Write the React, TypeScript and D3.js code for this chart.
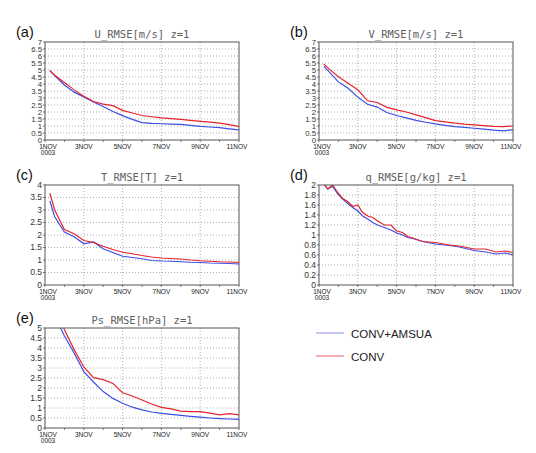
import React from "react";
import * as d3 from "d3";

// time axis (days after 1NOV 00Z)
const days = [0.25, 0.5, 1, 1.5, 2, 2.5, 3, 3.5, 4, 4.5, 5, 5.5, 6, 6.5, 7, 7.5, 8, 8.5, 9, 9.5, 10];
const qDays = [0.25, 0.45, 0.7, 0.96, 1.22, 1.48, 1.74, 2.0, 2.25, 2.51, 2.77, 3.02, 3.37, 3.71, 4.0, 4.31, 4.57, 4.83, 5.34, 6.0, 6.72, 7.23, 8.0, 8.6, 9.1, 9.6, 10];

// (a) U RMSE
const uAmsua = [4.95, 4.6, 3.93, 3.42, 3.08, 2.72, 2.39, 2.03, 1.74, 1.47, 1.24, 1.19, 1.16, 1.13, 1.11, 1.05, 0.98, 0.93, 0.88, 0.8, 0.72];
const uConv = [4.95, 4.62, 4.1, 3.58, 3.12, 2.75, 2.56, 2.45, 2.12, 1.93, 1.75, 1.66, 1.58, 1.53, 1.48, 1.4, 1.33, 1.27, 1.2, 1.1, 0.95];
// (b) V RMSE
const vAmsua = [5.26, 4.9, 4.15, 3.7, 3.06, 2.55, 2.35, 1.96, 1.75, 1.58, 1.4, 1.27, 1.15, 1.05, 0.96, 0.9, 0.84, 0.78, 0.7, 0.65, 0.74];
const vConv = [5.43, 5.1, 4.52, 4.05, 3.59, 2.8, 2.68, 2.33, 2.15, 2.0, 1.8, 1.6, 1.39, 1.3, 1.2, 1.13, 1.08, 1.02, 0.97, 0.95, 1.0];
// (c) T RMSE
const tAmsua = [3.36, 2.73, 2.12, 1.93, 1.65, 1.72, 1.45, 1.3, 1.15, 1.1, 1.05, 0.98, 0.96, 0.95, 0.93, 0.91, 0.9, 0.88, 0.87, 0.86, 0.84];
const tConv = [3.67, 3.0, 2.22, 2.05, 1.78, 1.7, 1.55, 1.42, 1.31, 1.25, 1.18, 1.12, 1.08, 1.06, 1.04, 1.0, 0.97, 0.95, 0.93, 0.92, 0.9];
// (d) q RMSE
const qAmsua = [2.02, 1.92, 1.97, 1.83, 1.72, 1.63, 1.55, 1.48, 1.38, 1.32, 1.25, 1.2, 1.15, 1.1, 1.04, 1.0, 0.95, 0.93, 0.87, 0.82, 0.79, 0.76, 0.69, 0.66, 0.62, 0.64, 0.6];
const qConv = [2.02, 1.92, 2.0, 1.85, 1.73, 1.67, 1.57, 1.6, 1.45, 1.38, 1.35, 1.28, 1.2, 1.2, 1.08, 1.05, 0.97, 0.94, 0.87, 0.85, 0.8, 0.78, 0.72, 0.72, 0.66, 0.68, 0.65];
// (e) Ps RMSE
const psAmsua = [6.4, 5.6, 4.6, 3.75, 2.82, 2.3, 1.82, 1.48, 1.24, 1.04, 0.91, 0.8, 0.73, 0.68, 0.63, 0.58, 0.54, 0.5, 0.47, 0.45, 0.43];
const psConv = [6.6, 6.0, 4.92, 3.92, 3.05, 2.52, 2.42, 2.23, 1.76, 1.6, 1.4, 1.2, 1.03, 0.96, 0.84, 0.82, 0.82, 0.74, 0.66, 0.72, 0.66];

const xTickDays = [0, 2, 4, 6, 8, 10];
const xTickLabels = ["1NOV", "3NOV", "5NOV", "7NOV", "9NOV", "11NOV"];
const yearLabel = "0003";
const seriesNames = ["CONV+AMSUA", "CONV"];

const BLUE = "#3b4fe6";
const RED = "#e5242c";

type Panel = {
  id: string;
  tag: string;
  title: string;
  yMax: number;
  yStep: number;
  t: number[];
  blue: number[];
  red: number[];
  box: { l: number; r: number; t: number; b: number };
};

const panels: Panel[] = [
  { id: "a", tag: "(a)", title: "U_RMSE[m/s]  z=1", yMax: 7, yStep: 0.5, t: days, blue: uAmsua, red: uConv, box: { l: 45, r: 239, t: 42, b: 140 } },
  { id: "b", tag: "(b)", title: "V_RMSE[m/s]  z=1", yMax: 7, yStep: 0.5, t: days, blue: vAmsua, red: vConv, box: { l: 319, r: 513, t: 42, b: 140 } },
  { id: "c", tag: "(c)", title: "T_RMSE[T]  z=1", yMax: 4, yStep: 0.5, t: days, blue: tAmsua, red: tConv, box: { l: 45, r: 239, t: 185, b: 285 } },
  { id: "d", tag: "(d)", title: "q_RMSE[g/kg]  z=1", yMax: 2, yStep: 0.2, t: qDays, blue: qAmsua, red: qConv, box: { l: 319, r: 513, t: 185, b: 285 } },
  { id: "e", tag: "(e)", title: "Ps_RMSE[hPa]  z=1", yMax: 5, yStep: 0.5, t: days, blue: psAmsua, red: psConv, box: { l: 45, r: 239, t: 328, b: 428 } },
];

function fmt(v: number) {
  return String(+v.toFixed(1));
}

function PanelView({ p }: { p: Panel }) {
  const { l, r, t, b } = p.box;
  const x = d3.scaleLinear().domain([0, 10]).range([l, r]);
  const y = d3.scaleLinear().domain([0, p.yMax]).range([b, t]);
  const n = Math.round(p.yMax / p.yStep);
  const yTicks = d3.range(0, n + 1).map((i) => +(i * p.yStep).toFixed(2));
  const line = d3
    .line<number>()
    .x((_, i) => x(p.t[i]))
    .y((d) => y(d));
  const clipId = `clip-${p.id}`;
  const tight = (b - t) / n < 8;
  return (
    <g>
      <defs>
        <clipPath id={clipId}>
          <rect x={l} y={t} width={r - l} height={b - t} />
        </clipPath>
      </defs>
      {/* grid */}
      {yTicks.slice(1, -1).map((v) => (
        <line key={"gy" + v} x1={l} x2={r} y1={y(v)} y2={y(v)} stroke="#9a9a9a" strokeWidth={0.8} strokeDasharray="1,2" />
      ))}
      {xTickDays.slice(1, -1).map((d) => (
        <line key={"gx" + d} x1={x(d)} x2={x(d)} y1={t} y2={b} stroke="#9a9a9a" strokeWidth={0.8} strokeDasharray="1,2" />
      ))}
      {/* series */}
      <g clipPath={`url(#${clipId})`}>
        <path d={line(p.blue) || ""} fill="none" stroke={BLUE} strokeWidth={1.2} />
        <path d={line(p.red) || ""} fill="none" stroke={RED} strokeWidth={1.2} />
      </g>
      {/* frame */}
      <rect x={l} y={t} width={r - l} height={b - t} fill="none" stroke="#555" strokeWidth={1} />
      {/* y ticks */}
      {yTicks.map((v) => (
        <g key={"yt" + v}>
          <line x1={l - 2} x2={l} y1={y(v)} y2={y(v)} stroke="#555" strokeWidth={0.8} />
          <text
            x={l - 3}
            y={y(v) + 2.8}
            fontSize={tight ? 7.8 : 8.5}
            textAnchor="end"
            fill="#333"
            fontFamily="Liberation Sans, Arial, sans-serif"
          >
            {fmt(v)}
          </text>
        </g>
      ))}
      {/* x ticks */}
      {d3.range(0, 11).map((d) => (
        <line key={"xt" + d} x1={x(d)} x2={x(d)} y1={b} y2={b + 2} stroke="#555" strokeWidth={0.8} />
      ))}
      {xTickDays.map((d, i) => (
        <text
          key={"xl" + d}
          x={x(d) + (i === 0 ? 3 : i === xTickDays.length - 1 ? -2 : 0)}
          y={b + 8.5}
          fontSize={6.5}
          textAnchor="middle"
          fill="#222"
          fontFamily="Liberation Sans, Arial, sans-serif"
        >
          {xTickLabels[i]}
        </text>
      ))}
      <text x={x(0) + 3} y={b + 15} fontSize={6.5} textAnchor="middle" fill="#222" fontFamily="Liberation Sans, Arial, sans-serif">
        {yearLabel}
      </text>
      {/* title */}
      <text x={(l + r) / 2} y={t - 4} fontSize={10.5} textAnchor="middle" fill="#606060" fontFamily="DejaVu Sans Mono, monospace">
        {p.title}
      </text>
      {/* tag */}
      <text x={l - 29} y={t - 5} fontSize={14.5} fill="#111" fontFamily="Liberation Sans, Arial, sans-serif">
        {p.tag}
      </text>
    </g>
  );
}

export default function App() {
  const legendX = 316;
  const legendY = [333, 356];
  const legendColors = ["#8f8fe8", "#ea5a62"];
  return (
    <svg width={536} height={453} style={{ position: "absolute", left: 0, top: 0, background: "#fff" }}>
      <rect x={0} y={0} width={536} height={453} fill="#fff" />
      {panels.map((p) => (
        <PanelView key={p.id} p={p} />
      ))}
      {seriesNames.map((s, i) => (
        <g key={s}>
          <line x1={legendX} x2={legendX + 28} y1={legendY[i]} y2={legendY[i]} stroke={legendColors[i]} strokeWidth={1} />
          <text x={legendX + 35} y={legendY[i] + 4.5} fontSize={11.5} fill="#222" fontFamily="Liberation Sans, Arial, sans-serif">
            {s}
          </text>
        </g>
      ))}
    </svg>
  );
}
